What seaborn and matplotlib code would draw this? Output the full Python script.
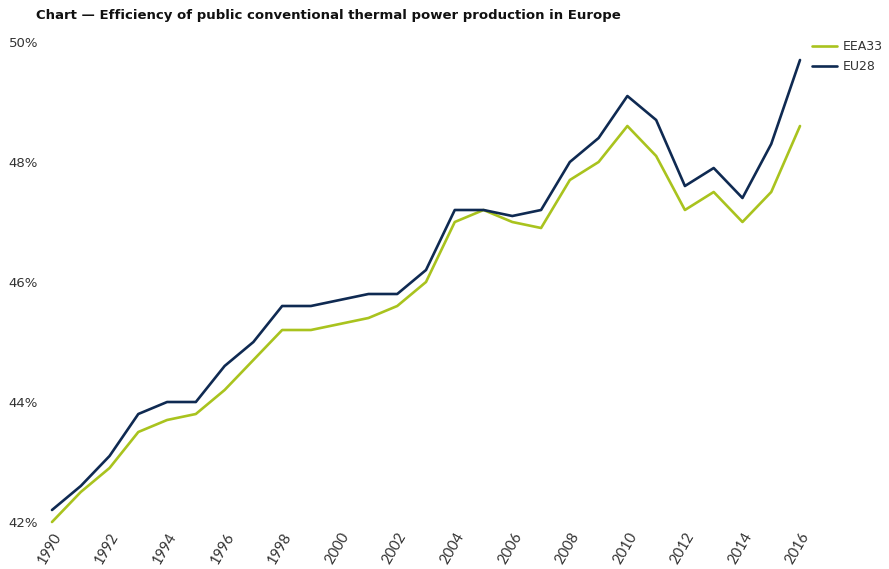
import pandas as pd
import seaborn as sns
import matplotlib.pyplot as plt
from matplotlib.ticker import FuncFormatter

years = list(range(1990, 2017))
eea33 = [42.0, 42.5, 42.9, 43.5, 43.7, 43.8, 44.2, 44.7, 45.2, 45.2, 45.3, 45.4, 45.6, 46.0,
         47.0, 47.2, 47.0, 46.9, 47.7, 48.0, 48.6, 48.1, 47.2, 47.5, 47.0, 47.5, 48.6]
eu28 = [42.2, 42.6, 43.1, 43.8, 44.0, 44.0, 44.6, 45.0, 45.6, 45.6, 45.7, 45.8, 45.8, 46.2,
        47.2, 47.2, 47.1, 47.2, 48.0, 48.4, 49.1, 48.7, 47.6, 47.9, 47.4, 48.3, 49.7]
series = ["EEA33", "EU28"]
colors = ["#a9c31e", "#0f2a52"]

df = pd.DataFrame({"year": years * 2,
                   "value": eea33 + eu28,
                   "series": [series[0]] * len(years) + [series[1]] * len(years)})

sns.set_style("white")
fig = plt.figure(figsize=(8.89, 5.69), dpi=100)
ax = fig.add_axes([52 / 889, 1 - 522 / 569, 748 / 889, 480 / 569])

sns.lineplot(data=df, x="year", y="value", hue="series", palette=colors,
             linewidth=1.9, ax=ax, clip_on=False)

ax.set_xlim(1990, 2016)
ax.set_ylim(42, 50)
ax.set_xticks(years[::2])
ax.set_yticks([42, 44, 46, 48, 50])
ax.yaxis.set_major_formatter(FuncFormatter(lambda v, p: f"{v:.0f}%"))
ax.set_xlabel("")
ax.set_ylabel("")
sns.despine(ax=ax, left=True, bottom=True)
ax.tick_params(axis="y", length=0, pad=10, labelsize=9.5, labelcolor="#333333")
ax.tick_params(axis="x", length=0, pad=6, labelsize=10.5, labelcolor="#333333")
for lbl in ax.get_xticklabels():
    lbl.set_rotation(60)
    lbl.set_ha("right")
    lbl.set_rotation_mode("anchor")
    lbl.set_family("Lato")

handles, labels = ax.get_legend_handles_labels()
ax.get_legend().remove()
fig.legend(handles, labels, frameon=False, loc="upper left",
           bbox_to_anchor=(812 / 889, 1 - 40 / 569), borderpad=0, borderaxespad=0,
           fontsize=9, handlelength=2.0, handletextpad=0.5, labelspacing=0.6,
           labelcolor="#333333")

fig.text(36 / 889, 1 - 15 / 569, "Chart \u2014 Efficiency of public conventional thermal power production in Europe",
         fontsize=9.5, fontweight="bold", va="center", ha="left", color="#111111")

fig.savefig("out.png", dpi=100)
